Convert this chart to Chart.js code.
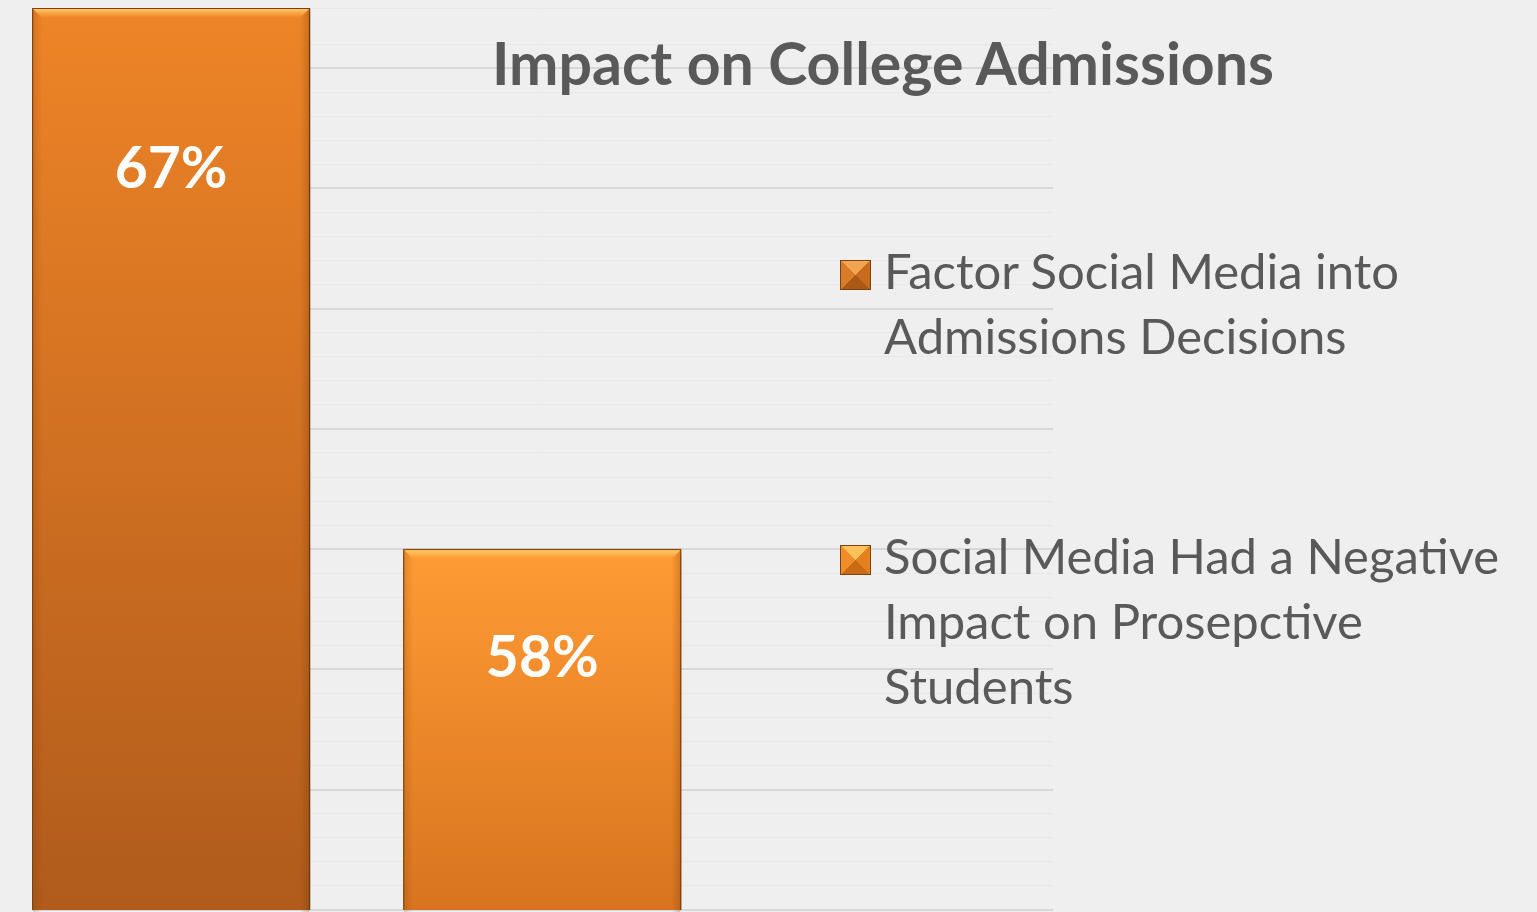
<!DOCTYPE html>
<html>
<head>
<meta charset="utf-8">
<script src="https://cdn.jsdelivr.net/npm/chart.js@4"></script>
<style>
  html, body { margin: 0; padding: 0; background: #EFEFEF; }
  body { width: 1537px; height: 912px; position: relative; overflow: hidden; font-family: Lato, "Open Sans", sans-serif; }
  #wrap { position: absolute; left: 0; top: 0; width: 1537px; height: 912px; }
  #title { position: absolute; top: 33px; left: 883px; transform: translateX(-50%); white-space: nowrap;
           font: bold 59px/59px Lato, sans-serif; color: #595959; }
  .item { position: absolute; left: 840px; width: 690px; }
  .mark { position: absolute; left: 0; top: 22px; width: 31px; height: 30px; box-sizing: border-box; border: 1px solid #7a4212; }
  .txt { margin-left: 44px; font: 49px/65px Lato, sans-serif; color: #595959; max-width: 640px; }
</style>
</head>
<body>
<div id="wrap"><canvas id="c" width="1537" height="912"></canvas></div>
<div id="title"></div>
<div id="legend"></div>
<script>
// ---- data ----
const chartTitle = "Impact on College Admissions";
const seriesLabels = [
  "Factor Social Media into Admissions Decisions",
  "Social Media Had a Negative Impact on Prosepctive Students"
];
const seriesValues = [67, 58];          // percent
const seriesSlots = [1, 2];             // position of each bar along the x axis
const valueLabels = ["67%", "58%"];

// ---- styles ----
const topColors = ["#EE8427", "#FF9B34"];
const bottomColors = ["#B05B1C", "#D8741F"];
const edgeColors = ["#8A4A14", "#9A5616"];
const markerColors = [
  ["#F3A451", "#C76C1E", "#A95816", "#D97C28"],
  ["#FFC25A", "#E5801F", "#C96A17", "#F08C2A"]
];
const labelBaselineOffsets = [180, 128];  // px below bar top
const legendTops = [238, 523];

const bevelPlugin = {
  id: 'bevel',
  beforeDatasetsDraw(chart) {
    const ctx = chart.ctx;
    ctx.save();
    ctx.shadowColor = 'rgba(0,0,0,0.35)';
    ctx.shadowBlur = 7;
    ctx.shadowOffsetX = 2;
    ctx.shadowOffsetY = 1;
  },
  afterDatasetsDraw(chart) {
    const ctx = chart.ctx;
    ctx.restore();
    chart.data.datasets.forEach((ds, i) => {
      const meta = chart.getDatasetMeta(i);
      meta.data.forEach(el => {
        const l = el.x - el.width / 2 + 1, r = el.x + el.width / 2 - 1;
        const t = el.y + 1, b = el.base - 1, s = 9;
        ctx.save();
        // top bevel
        let g = ctx.createLinearGradient(0, t, 0, t + s);
        g.addColorStop(0, 'rgba(255,205,110,0.95)');
        g.addColorStop(1, 'rgba(255,190,90,0.0)');
        ctx.fillStyle = g;
        ctx.beginPath(); ctx.moveTo(l, t); ctx.lineTo(r, t); ctx.lineTo(r - s, t + s); ctx.lineTo(l + s, t + s); ctx.closePath(); ctx.fill();
        // bottom bevel
        g = ctx.createLinearGradient(0, b - s, 0, b);
        g.addColorStop(0, 'rgba(110,50,0,0.0)');
        g.addColorStop(1, 'rgba(110,50,0,0.35)');
        ctx.fillStyle = g;
        ctx.beginPath(); ctx.moveTo(l, b); ctx.lineTo(r, b); ctx.lineTo(r - s, b - s); ctx.lineTo(l + s, b - s); ctx.closePath(); ctx.fill();
        // right bevel
        g = ctx.createLinearGradient(r - s, 0, r, 0);
        g.addColorStop(0, 'rgba(110,50,0,0.0)');
        g.addColorStop(1, 'rgba(110,50,0,0.25)');
        ctx.fillStyle = g;
        ctx.beginPath(); ctx.moveTo(r, t); ctx.lineTo(r, b); ctx.lineTo(r - s, b - s); ctx.lineTo(r - s, t + s); ctx.closePath(); ctx.fill();
        // left bevel
        g = ctx.createLinearGradient(l, 0, l + s, 0);
        g.addColorStop(0, 'rgba(110,50,0,0.18)');
        g.addColorStop(1, 'rgba(110,50,0,0.0)');
        ctx.fillStyle = g;
        ctx.beginPath(); ctx.moveTo(l, t); ctx.lineTo(l, b); ctx.lineTo(l + s, b - s); ctx.lineTo(l + s, t + s); ctx.closePath(); ctx.fill();
        // value label
        ctx.fillStyle = '#FFFFFF';
        ctx.font = 'bold 57px Lato, sans-serif';
        ctx.textAlign = 'center';
        ctx.textBaseline = 'alphabetic';
        ctx.fillText(valueLabels[i], el.x, el.y + labelBaselineOffsets[i]);
        ctx.restore();
      });
    });
  }
};

function barGradient(i) {
  return (c) => {
    const chart = c.chart;
    const area = chart.chartArea;
    if (!area) return topColors[i];
    const yTop = chart.scales.y.getPixelForValue(seriesValues[i]);
    const g = chart.ctx.createLinearGradient(0, yTop, 0, area.bottom);
    g.addColorStop(0, topColors[i]);
    g.addColorStop(1, bottomColors[i]);
    return g;
  };
}

const datasets = seriesLabels.map((lab, i) => ({
  label: lab,
  data: [{ x: seriesSlots[i], y: seriesValues[i] }],
  backgroundColor: barGradient(i),
  borderColor: edgeColors[i],
  borderWidth: 1.5,
  borderSkipped: false,
  barThickness: 278,
  grouped: false
}));

const chart = new Chart(document.getElementById('c'), {
  type: 'bar',
  data: { datasets },
  options: {
    responsive: false,
    animation: false,
    events: [],
    layout: { padding: { left: 32, right: 484, top: 8, bottom: 2 } },
    plugins: { legend: { display: false }, title: { display: false }, tooltip: { enabled: false } },
    scales: {
      x: { type: 'linear', min: 0.6253, max: 3.376, offset: false, display: false },
      y: {
        type: 'linear', min: 52, max: 67,
        ticks: { display: false, stepSize: 0.4 },
        border: { display: false },
        grid: {
          drawTicks: false,
          color: (c) => {
            const v = c.tick ? c.tick.value : 0;
            const major = Math.abs(v / 2 - Math.round(v / 2)) < 0.01;
            return major ? '#D8D8D8' : '#E8E8E8';
          },
          lineWidth: (c) => {
            const v = c.tick ? c.tick.value : 0;
            const major = Math.abs(v / 2 - Math.round(v / 2)) < 0.01;
            return major ? 2 : 1;
          }
        }
      }
    }
  },
  plugins: [bevelPlugin]
});

// HTML title and legend built from the data
document.getElementById('title').textContent = chartTitle;
const leg = document.getElementById('legend');
seriesLabels.forEach((lab, i) => {
  const item = document.createElement('div');
  item.className = 'item';
  item.style.top = legendTops[i] + 'px';
  const m = document.createElement('div');
  m.className = 'mark';
  const c = markerColors[i];
  m.style.background = `conic-gradient(from -45deg, ${c[0]} 0deg 90deg, ${c[1]} 90deg 180deg, ${c[2]} 180deg 270deg, ${c[3]} 270deg 360deg)`;
  const t = document.createElement('div');
  t.className = 'txt';
  t.textContent = lab;
  item.appendChild(m);
  item.appendChild(t);
  leg.appendChild(item);
});
</script>
</body>
</html>
